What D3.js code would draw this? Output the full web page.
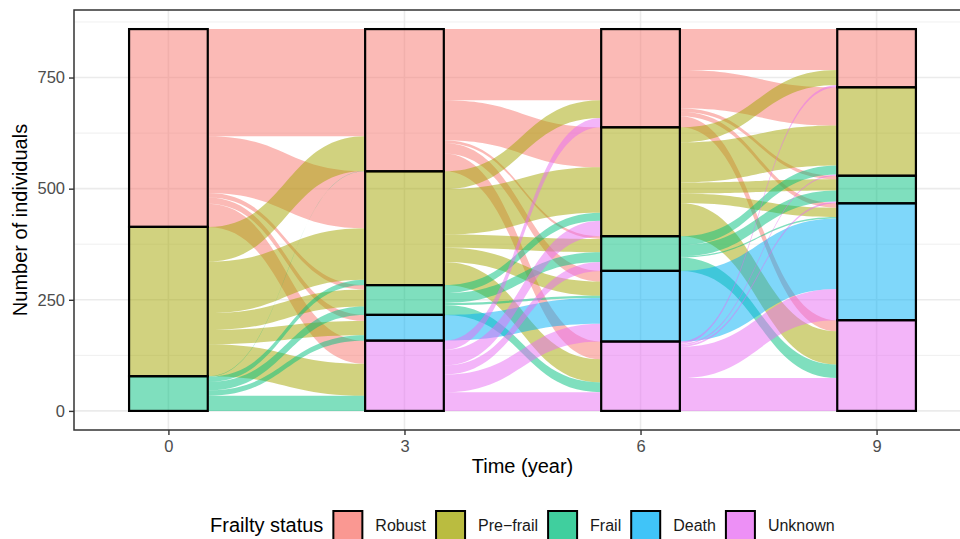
<!DOCTYPE html>
<html>
<head>
<meta charset="utf-8">
<script src="https://cdn.jsdelivr.net/npm/d3@7"></script>
<style>
  body { margin: 0; background: #fff; }
  svg { display: block; font-family: "Liberation Sans", Arial, sans-serif; }
</style>
</head>
<body>
<svg id="chart" width="960" height="539"></svg>
<script>
// waves and frailty states, Robust stacked on top
var times = ["0", "3", "6", "9"];
var statuses = ["Robust", "Pre-frail", "Frail", "Death", "Unknown"];
var legendLabels = ["Robust", "Pre\u2212frail", "Frail", "Death", "Unknown"];
var statusColors = ["#F8766D", "#A3A500", "#00BF7D", "#00B0F6", "#E76BF3"];
var yTicks = [0, 250, 500, 750];
var yMinorTicks = [125, 375, 625, 875];

// rows = status at the earlier wave, columns = status at the next wave
// (order Robust, Pre-frail, Frail, Death, Unknown)
var flows0to3 = [
  [241, 128, 10, 14, 52],
  [78, 116, 38, 32, 72],
  [1, 12, 19, 12, 34],
  [0, 0, 0, 0, 0],
  [0, 0, 0, 0, 0]
];
var flows3to6 = [
  [160, 90, 6, 24, 40],
  [40, 102, 30, 32, 52],
  [0, 18, 22, 5, 22],
  [0, 0, 0, 58, 0],
  [21, 35, 20, 40, 42]
];
var flows6to9 = [
  [92, 86, 8, 10, 25],
  [34, 90, 25, 21, 75],
  [0, 20, 25, 3, 30],
  [0, 0, 0, 159, 0],
  [5, 3, 4, 70, 74]
];
var transitions = [flows0to3, flows3to6, flows6to9];

// stratum sizes per wave, from the flows
var strata = [transitions[0].map(function(row) { return d3.sum(row); })];
transitions.forEach(function(m) {
  strata.push(statuses.map(function(s, j) { return d3.sum(m, function(row) { return row[j]; }); }));
});
var total = d3.sum(strata[0]);

var svg = d3.select("#chart");
var panel = {left: 74, right: 971, top: 10, bottom: 430};

var x = d3.scalePoint().domain(times).range([panel.left, panel.right]).padding(0.4);
var y = d3.scaleLinear()
    .domain([-0.05 * total, total * 1.05])
    .range([panel.bottom, panel.top]);
var boxW = x.step() / 3;

svg.append("defs").append("clipPath").attr("id", "panelClip")
  .append("rect")
    .attr("x", panel.left).attr("y", panel.top)
    .attr("width", panel.right - panel.left).attr("height", panel.bottom - panel.top);

var plot = svg.append("g").attr("clip-path", "url(#panelClip)");

// grid
plot.append("g").selectAll("line")
  .data(yMinorTicks)
  .enter().append("line")
    .attr("x1", panel.left).attr("x2", panel.right)
    .attr("y1", function(d) { return y(d); }).attr("y2", function(d) { return y(d); })
    .attr("stroke", "#EBEBEB").attr("stroke-width", 0.8);
plot.append("g").selectAll("line")
  .data(yTicks)
  .enter().append("line")
    .attr("x1", panel.left).attr("x2", panel.right)
    .attr("y1", function(d) { return y(d); }).attr("y2", function(d) { return y(d); })
    .attr("stroke", "#EBEBEB").attr("stroke-width", 1.6);
plot.append("g").selectAll("line")
  .data(times)
  .enter().append("line")
    .attr("y1", panel.top).attr("y2", panel.bottom)
    .attr("x1", function(d) { return x(d); }).attr("x2", function(d) { return x(d); })
    .attr("stroke", "#EBEBEB").attr("stroke-width", 1.6);

function stackTops(counts) {
  var tops = [], acc = total;
  counts.forEach(function(c) { tops.push(acc); acc -= c; });
  return tops;
}

function flowPath(x0, x1, a0, b0, a1, b1) {
  var k = (x1 - x0) * 0.5;
  return "M" + x0 + "," + a0 +
    "C" + (x0 + k) + "," + a0 + " " + (x1 - k) + "," + a1 + " " + x1 + "," + a1 +
    "L" + x1 + "," + b1 +
    "C" + (x1 - k) + "," + b1 + " " + (x0 + k) + "," + b0 + " " + x0 + "," + b0 + "Z";
}

// build flow ribbons (left end sorted by destination, right end by source)
var ribbons = [];
transitions.forEach(function(m, t) {
  var leftPos = stackTops(strata[t]);
  var rightPos = stackTops(strata[t + 1]);
  var rightStart = [];
  statuses.forEach(function(s, j) {
    var acc = rightPos[j];
    rightStart[j] = [];
    statuses.forEach(function(s2, i) { rightStart[j][i] = acc; acc -= m[i][j]; });
  });
  statuses.forEach(function(s, i) {
    var acc = leftPos[i];
    statuses.forEach(function(s2, j) {
      var v = m[i][j];
      if (v > 0) {
        ribbons.push({t: t, from: i, to: j, value: v,
          l0: acc, l1: acc - v, r0: rightStart[j][i], r1: rightStart[j][i] - v});
      }
      acc -= v;
    });
  });
});

plot.append("g").attr("class", "flows")
  .selectAll("path")
  .data(ribbons)
  .enter().append("path")
    .attr("d", function(d) {
      var x0 = x(times[d.t]) + boxW / 2, x1 = x(times[d.t + 1]) - boxW / 2;
      return flowPath(x0, x1, y(d.l0), y(d.l1), y(d.r0), y(d.r1));
    })
    .attr("fill", function(d) { return statusColors[d.from]; })
    .attr("fill-opacity", 0.5);

// strata boxes
var boxes = [];
strata.forEach(function(counts, t) {
  var tops = stackTops(counts);
  counts.forEach(function(c, i) {
    if (c > 0) boxes.push({t: t, s: i, top: tops[i], bottom: tops[i] - c});
  });
});

plot.append("g").attr("class", "strata")
  .selectAll("rect")
  .data(boxes)
  .enter().append("rect")
    .attr("x", function(d) { return x(times[d.t]) - boxW / 2; })
    .attr("y", function(d) { return y(d.top); })
    .attr("width", boxW)
    .attr("height", function(d) { return y(d.bottom) - y(d.top); })
    .attr("fill", function(d) { return statusColors[d.s]; })
    .attr("fill-opacity", 0.5)
    .attr("stroke", "#000")
    .attr("stroke-width", 2.2);

// panel border
svg.append("rect")
    .attr("x", panel.left).attr("y", panel.top)
    .attr("width", panel.right - panel.left).attr("height", panel.bottom - panel.top)
    .attr("fill", "none").attr("stroke", "#333").attr("stroke-width", 1.5);

// axes
var yAxis = svg.append("g")
    .attr("transform", "translate(" + panel.left + ",0)")
    .call(d3.axisLeft(y).tickValues(yTicks).tickSize(5).tickPadding(4));
var xAxis = svg.append("g")
    .attr("transform", "translate(0," + panel.bottom + ")")
    .call(d3.axisBottom(x).tickSize(5).tickPadding(5));
[yAxis, xAxis].forEach(function(ax) {
  ax.select(".domain").remove();
  ax.selectAll(".tick line").attr("stroke", "#333").attr("stroke-width", 1.4);
  ax.selectAll(".tick text").attr("fill", "#4D4D4D")
    .style("font-size", "16.5px").style("font-family", "Liberation Sans, Arial, sans-serif");
});

svg.append("text")
    .attr("x", (panel.left + panel.right) / 2)
    .attr("y", 473)
    .attr("text-anchor", "middle")
    .style("font-size", "20px")
    .text("Time (year)");

svg.append("text")
    .attr("transform", "translate(27," + (panel.top + panel.bottom) / 2 + ") rotate(-90)")
    .attr("text-anchor", "middle")
    .style("font-size", "20px")
    .text("Number of individuals");

// legend
var legend = svg.append("g").attr("class", "legend");
var title = legend.append("text")
    .attr("x", 210).attr("y", 532)
    .style("font-size", "20px")
    .text("Frailty status");
var lx = 210 + title.node().getComputedTextLength() + 10;
statuses.forEach(function(s, i) {
  legend.append("rect")
      .attr("x", lx).attr("y", 511)
      .attr("width", 29).attr("height", 31)
      .attr("fill", statusColors[i]).attr("fill-opacity", 0.75)
      .attr("stroke", "#000").attr("stroke-width", 2);
  var lab = legend.append("text")
      .attr("x", lx + 42).attr("y", 531)
      .style("font-size", "16px")
      .attr("fill", "#1a1a1a")
      .text(legendLabels[i]);
  lx += 42 + lab.node().getComputedTextLength() + 10;
});
</script>
</body>
</html>
